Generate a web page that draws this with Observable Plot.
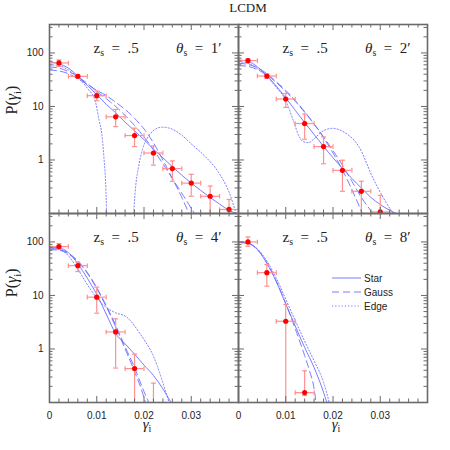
<!DOCTYPE html>
<html>
<head>
<meta charset="utf-8">
<script src="https://cdn.jsdelivr.net/npm/d3@7"></script>
<script src="https://cdn.jsdelivr.net/npm/@observablehq/plot@0.6"></script>
<style>
  html, body { margin: 0; padding: 0; background: #fff; }
  #wrap { position: relative; width: 450px; height: 450px; overflow: hidden; }
  #title { height: 20px; font: 13px "Liberation Serif", "Times New Roman", serif; line-height: 15px; padding-left: 46px; text-align: center; color: #222; }
  .leg { position: absolute; left: 332px; height: 14px; font: 10px "Liberation Sans", Arial, sans-serif; color: #222; display: flex; align-items: center; }
  .leg span { margin-left: 3px; }
</style>
</head>
<body>
<div id="wrap"><div id="title">LCDM</div></div>
<script>
// ---------- panels ----------
const thetas = ["1′", "2′", "4′", "8′"];
const zsrc = [".5", ".5", ".5", ".5"];
const panelCol = [0, 1, 0, 1];
const panelRow = [0, 0, 1, 1];

// ---------- simulated points (x centre, value, error low / high) ----------
const xErr = 0.002;
const ptX1 = [0.002, 0.006, 0.010, 0.014, 0.018, 0.022, 0.026, 0.030, 0.034, 0.038];
const ptY1 = [65, 36.5, 15.9, 6.4, 2.86, 1.35, 0.69, 0.37, 0.21, 0.119];
const ptHi1 = [74, 39.4, 19.4, 8.8, 3.93, 1.83, 0.96, 0.54, 0.325, 0.183];
const ptLo1 = [56, 34.1, 12.8, 4.2, 1.78, 0.80, 0.40, 0.21, 0.05, 0.05];

const ptX2 = [0.002, 0.006, 0.010, 0.014, 0.018, 0.022, 0.026, 0.030];
const ptY2 = [72, 37, 13.8, 4.8, 1.78, 0.64, 0.26, 0.107];
const ptHi2 = [77, 40.5, 17.5, 7.2, 2.7, 0.99, 0.40, 0.218];
const ptLo2 = [65, 33.5, 9.6, 2.44, 0.85, 0.26, 0.05, 0.05];

const ptX4 = [0.002, 0.006, 0.010, 0.014, 0.018, 0.022];
const ptY4 = [82, 36, 9.3, 2.08, 0.43, 0.07];
const ptHi4 = [93, 42, 14.3, 3.66, 0.8, 0.23];
const ptLo4 = [73, 28, 4.66, 0.44, 0.05, 0.03];

const ptX8 = [0.002, 0.006, 0.010, 0.014];
const ptY8 = [100, 26.7, 3.3, 0.153];
const ptHi8 = [124, 37.7, 6.8, 0.39];
const ptLo8 = [83, 14.9, 0.05, 0.135];

// ---------- model curves [gamma, P] ----------
const star1 = [[0,68],[0.002,63],[0.004,52],[0.006,37],[0.008,25],[0.010,16.5],[0.012,11],[0.014,7.6],[0.016,5.1],[0.018,3.5],[0.020,2.4],[0.022,1.6],[0.024,1.1],[0.026,0.75],[0.028,0.52],[0.030,0.37],[0.032,0.27],[0.034,0.2],[0.036,0.15],[0.038,0.115],[0.0395,0.1]];
const gaussA1 = [[0,55],[0.002,52],[0.004,45],[0.006,36],[0.008,27],[0.010,19],[0.012,14],[0.014,10],[0.016,6.8],[0.018,4.4],[0.020,2.7],[0.022,1.55],[0.024,0.85],[0.026,0.45],[0.028,0.24],[0.030,0.125],[0.0307,0.1]];
const gaussB1 = [[0,48],[0.002,46],[0.004,41],[0.006,33],[0.008,26],[0.010,20],[0.012,16],[0.014,12],[0.016,8.8],[0.018,6.0],[0.020,3.8],[0.022,2.1],[0.024,1.0],[0.026,0.45],[0.028,0.2],[0.0295,0.1]];
const edgeA1 = [[0,60],[0.002,58],[0.004,48],[0.006,35],[0.008,22],[0.0097,12.4],[0.0105,5.5],[0.0111,2.95],[0.0116,0.9],[0.0118,0.52],[0.0121,0.1]];
const edgeB1 = [[0.0178,0.1],[0.0182,0.3],[0.0188,0.7],[0.0197,1.6],[0.021,2.8],[0.0225,3.8],[0.0238,4.1],[0.0255,3.9],[0.028,2.9],[0.030,2.0],[0.033,1.15],[0.0357,0.6],[0.038,0.25],[0.0395,0.1]];

const star2 = [[0,74],[0.002,70],[0.004,55],[0.006,38],[0.008,24],[0.010,14.5],[0.012,8.5],[0.014,5.0],[0.016,3.0],[0.018,1.8],[0.020,1.1],[0.022,0.7],[0.024,0.45],[0.026,0.3],[0.028,0.2],[0.030,0.147],[0.032,0.115],[0.0334,0.1]];
const gaussA2 = [[0,64],[0.002,61],[0.004,53],[0.006,41],[0.008,29],[0.010,20],[0.012,13],[0.014,8],[0.016,4.7],[0.018,2.6],[0.020,1.35],[0.022,0.65],[0.024,0.28],[0.0262,0.1]];
const gaussB2 = [[0,58],[0.002,56],[0.004,49],[0.006,39],[0.008,28],[0.010,19],[0.012,12.5],[0.014,7.8],[0.016,4.7],[0.018,2.7],[0.020,1.5],[0.022,0.8],[0.024,0.4],[0.026,0.2],[0.0285,0.1]];
const edge2 = [[0,68],[0.002,64],[0.004,51],[0.006,36],[0.008,22.7],[0.010,13],[0.0116,5.4],[0.0128,2.8],[0.0137,2.2],[0.0148,2.1],[0.0158,2.4],[0.0179,3.5],[0.020,3.9],[0.0221,3.4],[0.0256,1.7],[0.0284,0.47],[0.0306,0.2],[0.0327,0.1]];

const star4 = [[0,80],[0.002,78],[0.004,63],[0.006,39],[0.008,21],[0.010,10.5],[0.012,4.5],[0.014,1.95],[0.016,1.25],[0.018,0.8],[0.020,0.5],[0.022,0.32],[0.024,0.18],[0.0257,0.1]];
const gaussA4 = [[0,75],[0.002,73],[0.004,62],[0.006,44],[0.008,27],[0.010,14],[0.012,6.5],[0.014,2.8],[0.016,1.1],[0.018,0.45],[0.020,0.16],[0.021,0.1]];
const gaussB4 = [[0,72],[0.002,70],[0.004,60],[0.006,43],[0.008,26],[0.010,13.5],[0.012,6.2],[0.014,2.6],[0.016,1.0],[0.018,0.38],[0.0195,0.17],[0.0203,0.1]];
const edge4 = [[0,78],[0.002,74],[0.004,55],[0.006,31],[0.008,16],[0.010,9],[0.012,6],[0.0136,4.9],[0.0164,3.9],[0.0192,1.9],[0.0221,0.7],[0.0249,0.13],[0.0253,0.1]];

const star8 = [[0,100],[0.002,96],[0.004,72],[0.006,40],[0.008,18],[0.010,7],[0.012,2.7],[0.014,1.07],[0.016,0.45],[0.018,0.155],[0.0187,0.1]];
const gauss8 = [[0,98],[0.002,94],[0.004,72],[0.006,41],[0.008,18.5],[0.010,7],[0.012,2.4],[0.014,0.75],[0.015,0.4],[0.016,0.18],[0.0164,0.1]];
const edge8 = [[0,97],[0.002,94],[0.004,74],[0.006,44],[0.008,21],[0.010,8.5],[0.012,3.4],[0.014,1.4],[0.016,0.6],[0.018,0.24],[0.0192,0.1]];

// ---------- ticks / labels ----------
const xMajor = [0, 0.01, 0.02, 0.03, 0.04];
const xMinor = [0.002,0.004,0.006,0.008,0.012,0.014,0.016,0.018,0.022,0.024,0.026,0.028,0.032,0.034,0.036,0.038];
const xLabels = [0, 0.01, 0.02, 0.03];
const yMajor = [1, 10, 100];
const yMinor = [0.2,0.3,0.4,0.5,0.6,0.7,0.8,0.9,2,3,4,5,6,7,8,9,20,30,40,50,60,70,80,90,200,300];
const legendLabels = ["Star", "Gauss", "Edge"];

// ---------- styling ----------
const blue = "#6c6cff", errC = "#ff9090", ptC = "#ff0000", frameC = "#6a6a6a";
const serif = "'Liberation Serif', 'Times New Roman', serif";
const sans = "'Liberation Sans', Arial, sans-serif";
const fw = 189, fh = 189;

// ---------- tables ----------
const curveSets = [
  {p: 0, s: "solid", c: star1}, {p: 0, s: "dash", c: gaussA1}, {p: 0, s: "dash", c: gaussB1}, {p: 0, s: "dot", c: edgeA1}, {p: 0, s: "dot", c: edgeB1},
  {p: 1, s: "solid", c: star2}, {p: 1, s: "dash", c: gaussA2}, {p: 1, s: "dash", c: gaussB2}, {p: 1, s: "dot", c: edge2},
  {p: 2, s: "solid", c: star4}, {p: 2, s: "dash", c: gaussA4}, {p: 2, s: "dash", c: gaussB4}, {p: 2, s: "dot", c: edge4},
  {p: 3, s: "solid", c: star8}, {p: 3, s: "dash", c: gauss8}, {p: 3, s: "dot", c: edge8}
];
const lineRows = curveSets.flatMap((cs, k) => cs.c.map(([x, y]) => ({x, y, key: k, s: cs.s, col: panelCol[cs.p], row: panelRow[cs.p]})));

const pointSets = [
  {p: 0, x: ptX1, y: ptY1, lo: ptLo1, hi: ptHi1},
  {p: 1, x: ptX2, y: ptY2, lo: ptLo2, hi: ptHi2},
  {p: 2, x: ptX4, y: ptY4, lo: ptLo4, hi: ptHi4},
  {p: 3, x: ptX8, y: ptY8, lo: ptLo8, hi: ptHi8}
];
const ptRows = pointSets.flatMap(ps => ps.x.map((x, i) => ({x, y: ps.y[i], lo: ps.lo[i], hi: ps.hi[i], col: panelCol[ps.p], row: panelRow[ps.p]})));

const panels = thetas.map((t, i) => ({theta: t, z: zsrc[i], col: panelCol[i], row: panelRow[i]}));

const vCap = {draw(ctx, size) { const r = Math.sqrt(size / Math.PI); ctx.moveTo(0, -r); ctx.lineTo(0, r); }};
const hCap = {draw(ctx, size) { const r = Math.sqrt(size / Math.PI); ctx.moveTo(-r, 0); ctx.lineTo(r, 0); }};

const F = {fx: "col", fy: "row"};
const lineOpts = (s, dash) => Plot.line(lineRows.filter(d => d.s === s), {x: "x", y: "y", z: "key", ...F, stroke: blue, strokeWidth: 0.9, strokeDasharray: dash, curve: "monotone-x", clip: true});

const chart = Plot.plot({
  width: 450, height: 430,
  marginLeft: 49, marginRight: 23, marginTop: 4, marginBottom: 48,
  x: {domain: [0, 0.04]},
  y: {type: "log", domain: [0.1, 340]},
  fx: {domain: [0, 1], padding: 0, axis: null},
  fy: {domain: [0, 1], padding: 0, axis: null},
  style: {fontFamily: sans, fontSize: "10px", background: "white", color: "#222"},
  marks: [
    lineOpts("solid", null),
    lineOpts("dash", "7,4"),
    lineOpts("dot", "1.2,2"),
    Plot.ruleX(ptRows, {x: "x", y1: "lo", y2: "hi", ...F, stroke: errC, strokeWidth: 1.2, clip: true}),
    Plot.ruleY(ptRows, {y: "y", x1: d => d.x - xErr, x2: d => d.x + xErr, ...F, stroke: errC, strokeWidth: 1.2, clip: true}),
    Plot.dot(ptRows, {x: d => d.x - xErr, y: "y", ...F, symbol: vCap, r: 2.3, fill: "none", stroke: errC, strokeWidth: 1.2, clip: true}),
    Plot.dot(ptRows, {x: d => d.x + xErr, y: "y", ...F, symbol: vCap, r: 2.3, fill: "none", stroke: errC, strokeWidth: 1.2, clip: true}),
    Plot.dot(ptRows, {x: "x", y: "hi", ...F, symbol: hCap, r: 2.5, fill: "none", stroke: errC, strokeWidth: 1.2, clip: true}),
    Plot.dot(ptRows, {x: "x", y: "lo", ...F, symbol: hCap, r: 2.5, fill: "none", stroke: errC, strokeWidth: 1.2, clip: true}),
    Plot.dot(ptRows, {x: "x", y: "y", ...F, r: 2.6, fill: ptC, stroke: "none", clip: true}),
    // inward ticks on all four sides
    Plot.tickY(yMajor, {y: d => d, insetRight: fw - 6, stroke: frameC}),
    Plot.tickY(yMinor, {y: d => d, insetRight: fw - 3.5, stroke: frameC}),
    Plot.tickY(yMajor, {y: d => d, insetLeft: fw - 6, stroke: frameC}),
    Plot.tickY(yMinor, {y: d => d, insetLeft: fw - 3.5, stroke: frameC}),
    Plot.tickX(xMajor, {x: d => d, insetTop: fh - 6, stroke: frameC}),
    Plot.tickX(xMinor, {x: d => d, insetTop: fh - 3.5, stroke: frameC}),
    Plot.tickX(xMajor, {x: d => d, insetBottom: fh - 6, stroke: frameC}),
    Plot.tickX(xMinor, {x: d => d, insetBottom: fh - 3.5, stroke: frameC}),
    Plot.frame({stroke: frameC, strokeWidth: 1.6}),
    Plot.axisX({ticks: xLabels, tickSize: 0, tickPadding: 9, tickFormat: d => String(d), label: null, fontSize: 10, fontFamily: sans}),
    Plot.axisY({ticks: yMajor, tickSize: 0, tickPadding: 6, tickFormat: d => String(d), label: null, fontSize: 10, fontFamily: sans}),
    // panel annotations
    Plot.text(panels, {...F, text: d => "z_s  =  " + d.z, frameAnchor: "top-left", lineAnchor: "middle", dx: 44, dy: 23.2, textAnchor: "start", fontFamily: serif, fontSize: 15, fill: "#222"}),
    Plot.text(panels, {...F, text: d => "θ_s  =  " + d.theta, frameAnchor: "top-left", lineAnchor: "middle", dx: 172, dy: 23.2, textAnchor: "end", fontFamily: serif, fontSize: 15, fill: "#222"}),
    // axis titles
    Plot.text(panels.filter(d => d.col === 0 && d.row === 0), {...F, text: () => "P(γ_i)", frameAnchor: "left", lineAnchor: "middle", dx: -37.5, dy: -4.5, rotate: -90, fontFamily: serif, fontSize: 16, fill: "#222"}),
    Plot.text(panels.filter(d => d.col === 0 && d.row === 1), {...F, text: () => "P(γ_i)", frameAnchor: "left", lineAnchor: "middle", dx: -37.5, dy: -10.8, rotate: -90, fontFamily: serif, fontSize: 16, fill: "#222"}),
    Plot.text(panels.filter(d => d.row === 1), {...F, text: () => "γ_i", frameAnchor: "bottom", lineAnchor: "middle", dx: 3, dy: 21.6, fontFamily: serif, fontSize: 15, fill: "#222"})
  ]
});

// rich text: "_x" -> subscript, greek -> italic
function richify(svg) {
  svg.querySelectorAll("text").forEach(t => {
    const s = t.textContent;
    if (!/[_θγ]/.test(s)) return;
    const segs = [];
    for (let i = 0; i < s.length; i++) {
      const c = s[i];
      if (c === "_") segs.push({t: s[++i], sub: true});
      else if (c === "θ" || c === "γ") segs.push({t: c, it: true});
      else if (segs.length && segs[segs.length - 1].plain) segs[segs.length - 1].t += c;
      else segs.push({t: c, plain: true});
    }
    t.textContent = "";
    t.setAttributeNS("http://www.w3.org/XML/1998/namespace", "xml:space", "preserve");
    t.style.whiteSpace = "pre";
    let shifted = false;
    for (const g of segs) {
      const ts = document.createElementNS("http://www.w3.org/2000/svg", "tspan");
      ts.textContent = g.t;
      if (g.sub) { ts.setAttribute("font-size", "0.66em"); ts.setAttribute("dy", "3.5"); shifted = true; }
      else if (shifted) { ts.setAttribute("dy", "-3.5"); shifted = false; }
      if (g.it) ts.setAttribute("font-style", "italic");
      t.appendChild(ts);
    }
  });
}
richify(chart);
document.getElementById("wrap").appendChild(chart);

// legend (inside lower-right panel)
const dashes = [null, "7,4", "1.2,2"];
legendLabels.forEach((lab, i) => {
  const d = document.createElement("div");
  d.className = "leg";
  d.style.top = (271 + 14 * i) + "px";
  d.innerHTML = `<svg width="29" height="14"><line x1="0" x2="29" y1="7" y2="7" stroke="${blue}" stroke-width="0.9" ${dashes[i] ? `stroke-dasharray="${dashes[i]}"` : ""}/></svg><span>${lab}</span>`;
  document.getElementById("wrap").appendChild(d);
});
</script>
</body>
</html>
